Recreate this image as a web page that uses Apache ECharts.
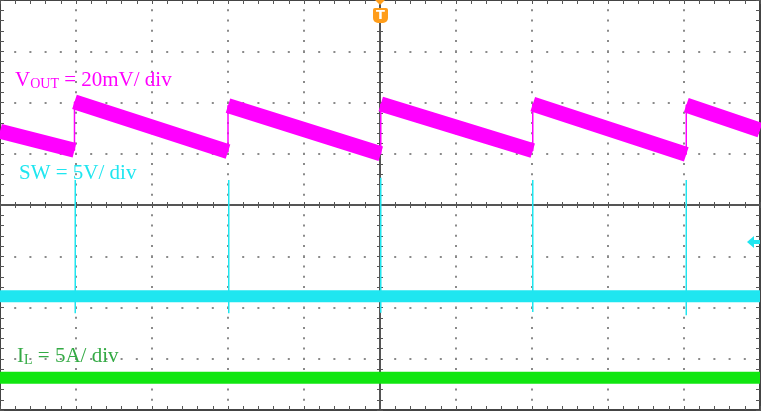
<!DOCTYPE html>
<html>
<head>
<meta charset="utf-8">
<script src="https://cdn.jsdelivr.net/npm/echarts@6/dist/echarts.min.js"></script>
<style>
html,body{margin:0;padding:0;background:#ffffff;}
#chart{width:761px;height:411px;}
</style>
</head>
<body>
<div id="chart"></div>
<script>
// Time axis in divisions (-5..5), vertical axis in divisions (-4..4)
const xRange = [-5, 5];
const yRange = [-4, 4];

// VOUT trace (centre of the noisy band), jumps have duplicate x
const voutX = [-5, -4.02, -4.02, -2.0, -2.0, 0.01, 0.01, 2.01, 2.01, 4.03, 4.03, 5];
const voutY = [1.44, 1.07, 2.01, 1.04, 1.94, 1.00, 1.97, 1.06, 1.97, 0.99, 1.95, 1.46];

// SW trace: flat level and switching spikes
const swLevel = -1.78;
const swSpikeX = [-4.01, -1.99, 0.01, 2.01, 4.03];
const swSpikeTop = [0.49, 0.49, 0.53, 0.49, 0.49];
const swSpikeBottom = [-2.11, -2.11, -2.10, -2.09, -2.15];

// IL trace: flat level
const ilLevel = -3.37;

// Channel labels
const labelVout = ['V', 'OUT', ' = 20mV/ div'];
const labelSw = 'SW = 5V/ div';
const labelIl = ['I', 'L', ' = 5A/ div'];

const MAG = '#ff00ff', CYAN = '#1fe6f0', GREEN = '#10e610', GREEN_TXT = '#33aa44';

// Build series data from arrays
const voutLine = voutX.map((x, i) => [x, voutY[i]]);
const voutBand = [];
voutX.forEach((x, i) => {
  if (i > 0 && voutX[i - 1] === x) voutBand.push([x, '-']);
  voutBand.push([x, voutY[i]]);
});
const swBand = [[xRange[0], swLevel], [xRange[1], swLevel]];
const swSpikes = [];
swSpikeX.forEach((x, i) => {
  swSpikes.push([x, swSpikeTop[i]], [x, swSpikeBottom[i]], [x, '-']);
});
const ilBand = [[xRange[0], ilLevel], [xRange[1], ilLevel]];

const AX = '#555';
function centerX(pos) {
  return {
    gridIndex: 0, type: 'value', min: xRange[0], max: xRange[1], interval: 1, position: pos,
    axisLine: { show: true, onZero: true, onZeroAxisIndex: 0, lineStyle: { color: AX, width: 2 } },
    axisTick: { show: true, length: 3, lineStyle: { color: AX, width: 1 } },
    minorTick: { show: true, splitNumber: 5, length: 3, lineStyle: { color: AX, width: 1 } },
    axisLabel: { show: false }, splitLine: { show: false }
  };
}
function centerY(pos) {
  return {
    gridIndex: 0, type: 'value', min: yRange[0], max: yRange[1], interval: 1, position: pos,
    axisLine: { show: true, onZero: true, onZeroAxisIndex: 0, lineStyle: { color: AX, width: 2 } },
    axisTick: { show: true, length: 3, lineStyle: { color: AX, width: 1 } },
    minorTick: { show: true, splitNumber: 5, length: 3, lineStyle: { color: AX, width: 1 } },
    axisLabel: { show: false }, splitLine: { show: false }
  };
}
function frameX(pos, split) {
  return {
    gridIndex: 1, type: 'value', min: xRange[0], max: xRange[1], interval: 1, position: pos,
    axisLine: { show: true, onZero: false, lineStyle: { color: '#444', width: 2 } },
    axisTick: { show: true, inside: true, length: 4, lineStyle: { color: AX, width: 1 } },
    minorTick: { show: true, splitNumber: 5, length: 4, lineStyle: { color: AX, width: 1 } },
    axisLabel: { show: false },
    splitLine: { show: split, lineStyle: { color: '#8a8a8a', width: 2, type: [2, 8.25], dashOffset: 1 } }
  };
}
function frameY(pos, split) {
  return {
    gridIndex: 1, type: 'value', min: yRange[0], max: yRange[1], interval: 1, position: pos,
    axisLine: { show: true, onZero: false, lineStyle: { color: '#444', width: 2 } },
    axisTick: { show: true, inside: true, length: 4, lineStyle: { color: AX, width: 1 } },
    minorTick: { show: true, splitNumber: 5, length: 4, lineStyle: { color: AX, width: 1 } },
    axisLabel: { show: false },
    splitLine: { show: split, lineStyle: { color: '#8a8a8a', width: 2, type: [2, 13.2], dashOffset: 1 } }
  };
}

const chart = echarts.init(document.getElementById('chart'), null, { renderer: 'canvas' });
const serif = 'Liberation Serif, Times New Roman, serif';

chart.setOption({
  animation: false,
  backgroundColor: '#ffffff',
  grid: [
    { left: 0, top: 0, width: 760, height: 410, containLabel: false },
    { left: 0, top: 0, width: 760, height: 410, containLabel: false }
  ],
  xAxis: [centerX('bottom'), centerX('top'), frameX('bottom', true), frameX('top', false)],
  yAxis: [centerY('left'), centerY('right'), frameY('left', true), frameY('right', false)],
  series: [
    { type: 'line', name: 'VOUT band', xAxisIndex: 0, yAxisIndex: 0, data: voutBand, symbol: 'none',
      lineStyle: { color: MAG, width: 15, cap: 'butt' }, z: 3, silent: true },
    { type: 'line', name: 'VOUT', xAxisIndex: 0, yAxisIndex: 0, data: voutLine, symbol: 'none',
      lineStyle: { color: MAG, width: 1.5 }, z: 3, silent: true },
    { type: 'line', name: 'SW spikes', xAxisIndex: 0, yAxisIndex: 0, data: swSpikes, symbol: 'none',
      lineStyle: { color: CYAN, width: 1.5 }, z: 3, silent: true },
    { type: 'line', name: 'SW', xAxisIndex: 0, yAxisIndex: 0, data: swBand, symbol: 'none',
      lineStyle: { color: CYAN, width: 12, cap: 'butt' }, z: 3, silent: true },
    { type: 'line', name: 'IL', xAxisIndex: 0, yAxisIndex: 0, data: ilBand, symbol: 'none',
      lineStyle: { color: GREEN, width: 12, cap: 'butt' }, z: 3, silent: true }
  ],
  graphic: [
    { type: 'text', x: 15, y: 70, z: 10, style: {
        text: '{a|' + labelVout[0] + '}{b|' + labelVout[1] + '}{a|' + labelVout[2] + '}',
        rich: {
          a: { fontSize: 21, fontFamily: serif, fill: MAG, lineHeight: 21 },
          b: { fontSize: 14, fontFamily: serif, fill: MAG, lineHeight: 14, verticalAlign: 'bottom' }
        } } },
    { type: 'text', x: 19, y: 163, z: 10, style: {
        text: labelSw, fontSize: 21, fontFamily: serif, fill: CYAN, lineHeight: 21 } },
    { type: 'text', x: 17, y: 346, z: 10, style: {
        text: '{a|' + labelIl[0] + '}{b|' + labelIl[1] + '}{a|' + labelIl[2] + '}',
        rich: {
          a: { fontSize: 21, fontFamily: serif, fill: GREEN_TXT, lineHeight: 21 },
          b: { fontSize: 14, fontFamily: serif, fill: GREEN_TXT, lineHeight: 14, verticalAlign: 'bottom' }
        } } },
    // trigger marker
    { type: 'polygon', z: 10, shape: { points: [[375, 0], [385, 0], [380, 5]] }, style: { fill: '#ff9d1a' } },
    { type: 'rect', z: 10, shape: { x: 373, y: 8, width: 15, height: 15, r: [2, 2, 5, 5] }, style: { fill: '#ff9d1a' } },
    { type: 'text', z: 11, x: 380.5, y: 16, style: { text: 'T', fontSize: 13, fontWeight: 'bold',
        fontFamily: 'DejaVu Sans, sans-serif', fill: '#ffffff', align: 'center', verticalAlign: 'middle' } },
    // SW channel ground marker on the right
    { type: 'polygon', z: 10, shape: { points: [[747, 242], [754, 236], [754, 248]] }, style: { fill: CYAN } },
    { type: 'rect', z: 10, shape: { x: 753, y: 240, width: 7, height: 4 }, style: { fill: CYAN } }
  ]
});
</script>
</body>
</html>
